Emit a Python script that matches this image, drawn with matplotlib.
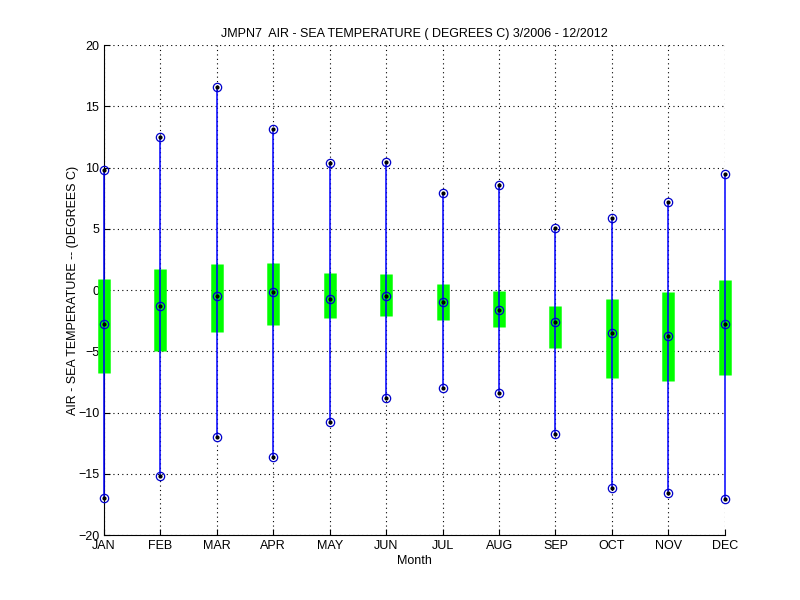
import numpy as np
import matplotlib
matplotlib.use('Agg')
import matplotlib.pyplot as plt

plt.rcParams['font.family'] = ['Liberation Sans', 'DejaVu Sans']

months = ['JAN', 'FEB', 'MAR', 'APR', 'MAY', 'JUN', 'JUL', 'AUG', 'SEP', 'OCT', 'NOV', 'DEC']
# monthly air - sea temperature stats (degrees C)
t_max = [9.78, 12.45, 16.54, 13.13, 10.4, 10.48, 7.95, 8.55, 5.09, 5.9, 7.16, 9.45]
t_min = [-16.95, -15.2, -12.0, -13.65, -10.76, -8.8, -8.0, -8.41, -11.77, -16.18, -16.59, -17.08]
t_mean = [-2.77, -1.32, -0.48, -0.15, -0.72, -0.48, -0.97, -1.62, -2.6, -3.5, -3.72, -2.77]
box_top = [0.92, 1.68, 2.09, 2.17, 1.35, 1.27, 0.45, -0.12, -1.27, -0.7, -0.2, 0.78]
box_bot = [-6.77, -4.95, -3.45, -2.88, -2.3, -2.14, -2.47, -3.04, -4.76, -7.21, -7.46, -6.97]

x = np.arange(1, 13)

fig = plt.figure(figsize=(8, 6), dpi=100)
ax = fig.add_axes([0.13, 0.1083, 0.776, 0.8167])

# green box between the two quantiles
ax.vlines(x, box_bot, box_top, colors='#00ff00', linewidth=9, zorder=3, clip_on=False)
# whiskers from min to max
ax.vlines(x, t_min, t_max, colors='#0000ff', linewidth=1.1, zorder=4, clip_on=False)

for vals in (t_max, t_min, t_mean):
    ax.plot(x, vals, 'o', mfc='none', mec='#0000cc', ms=6, mew=0.9, zorder=5, clip_on=False)
    ax.plot(x, vals, '.', color='black', ms=4, zorder=6, clip_on=False)

ax.set_xlim(1, 12)
ax.set_ylim(-20, 20)
ax.set_xticks(x)
ax.set_xticklabels(months)
ax.set_yticks(np.arange(-20, 21, 5))
ax.grid(True, linestyle=(0, (1, 3)), color='black', linewidth=0.8)
ax.spines['top'].set_visible(False)
ax.spines['right'].set_visible(False)
ax.tick_params(direction='in', labelsize=9, length=4)

ax.set_title('JMPN7  AIR - SEA TEMPERATURE ( DEGREES C) 3/2006 - 12/2012', fontsize=9, pad=6)
ax.set_xlabel('Month', fontsize=9, labelpad=2)
ax.set_ylabel('AIR - SEA TEMPERATURE -- (DEGREES C)', fontsize=9, labelpad=-1)

fig.savefig('out.png', dpi=100)
